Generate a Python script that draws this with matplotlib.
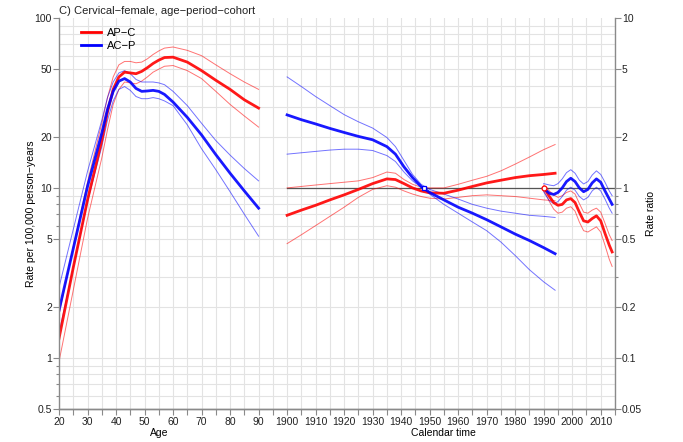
import numpy as np
import matplotlib
matplotlib.use("Agg")
import matplotlib.pyplot as plt
from matplotlib.lines import Line2D

plt.rcParams['font.family'] = ['Liberation Sans', 'DejaVu Sans']

# ---- age effects (rate per 100,000 person-years) ----
age = [20, 25, 30, 35, 37, 39, 41, 43, 45, 47, 49, 51, 53, 55, 57, 60, 65, 70, 75, 80, 85, 90]
apc_age     = [1.3, 3.4, 8.5, 19, 28, 38, 45, 48, 47.5, 47, 48.5, 51, 54, 56.5, 58.5, 58.8, 55, 49, 43, 38, 33, 29.5]
apc_age_hi  = [1.8, 4.5, 10.8, 24, 34, 45, 53, 55.5, 55.5, 54.5, 55, 57.5, 61, 64, 66.5, 67.5, 64.5, 60, 53, 47, 42, 38]
apc_age_lo  = [0.95, 2.5, 6.6, 15, 22, 31, 38, 42, 41.5, 41, 42.5, 45, 48, 50, 52, 52.5, 49, 44, 37, 31, 26.5, 22.8]
acp_age     = [1.9, 4.4, 10.2, 21, 29, 37, 42.5, 44, 42, 38.5, 37, 37.2, 37.5, 37, 35.5, 32, 26, 20.5, 15.7, 12.2, 9.6, 7.6]
acp_age_hi  = [2.6, 5.7, 12.5, 25, 34, 42, 47.5, 49, 47, 43.5, 42, 42, 42, 41.5, 40.5, 37, 30.5, 24, 19, 15.6, 13, 11]
acp_age_lo  = [1.4, 3.4, 8.3, 17.5, 25, 32.5, 38, 39.5, 37.5, 34.5, 33.5, 33.5, 34, 33.5, 32.5, 30.5, 23.5, 17, 12.8, 9.5, 7, 5.2]

# ---- cohort effects (rate ratio) ----
coh = [1900, 1905, 1910, 1915, 1920, 1925, 1930, 1935, 1938, 1941, 1944, 1947, 1950,
       1955, 1960, 1965, 1970, 1975, 1980, 1985, 1990, 1994]
apc_coh     = [0.69, 0.74, 0.79, 0.85, 0.91, 0.98, 1.06, 1.13, 1.12, 1.06, 1.0, 0.96, 0.935,
               0.93, 0.97, 1.02, 1.07, 1.11, 1.15, 1.18, 1.2, 1.22]
apc_coh_hi  = [1.0, 1.02, 1.04, 1.06, 1.08, 1.1, 1.15, 1.24, 1.22, 1.12, 1.05, 1.01, 1.0,
               1.0, 1.05, 1.11, 1.17, 1.26, 1.38, 1.52, 1.68, 1.8]
apc_coh_lo  = [0.47, 0.53, 0.6, 0.68, 0.77, 0.88, 0.98, 1.03, 1.01, 0.96, 0.92, 0.89, 0.87,
               0.86, 0.88, 0.9, 0.91, 0.9, 0.89, 0.87, 0.85, 0.84]
acp_coh     = [2.69, 2.52, 2.38, 2.24, 2.12, 2.01, 1.92, 1.75, 1.58, 1.33, 1.15, 1.02, 0.94,
               0.85, 0.77, 0.71, 0.65, 0.59, 0.535, 0.49, 0.445, 0.41]
acp_coh_hi  = [4.5, 3.95, 3.45, 3.05, 2.7, 2.45, 2.25, 1.98, 1.75, 1.45, 1.2, 1.05, 0.98,
               0.92, 0.86, 0.8, 0.76, 0.73, 0.71, 0.69, 0.68, 0.67]
acp_coh_lo  = [1.58, 1.61, 1.64, 1.67, 1.69, 1.69, 1.66, 1.55, 1.43, 1.24, 1.1, 1.01, 0.92,
               0.8, 0.71, 0.63, 0.56, 0.48, 0.4, 0.33, 0.28, 0.25]

# ---- period effects (rate ratio) ----
per = [1990, 1991, 1992, 1993.5, 1995, 1996.5, 1998, 1999.5, 2001, 2002.5, 2004, 2005.5,
       2007, 2008.5, 2010, 2011.5, 2013, 2014]
apc_per     = [1.0, 0.95, 0.89, 0.82, 0.79, 0.8, 0.85, 0.865, 0.82, 0.72, 0.64, 0.63,
               0.66, 0.685, 0.64, 0.54, 0.46, 0.42]
apc_per_hi  = [1.04, 1.0, 0.96, 0.91, 0.88, 0.9, 0.94, 0.96, 0.92, 0.81, 0.72, 0.71,
               0.74, 0.76, 0.72, 0.62, 0.53, 0.49]
apc_per_lo  = [0.96, 0.9, 0.83, 0.75, 0.71, 0.72, 0.76, 0.775, 0.73, 0.63, 0.56, 0.55,
               0.57, 0.59, 0.55, 0.46, 0.38, 0.345]
acp_per     = [1.0, 0.96, 0.93, 0.915, 0.94, 1.0, 1.09, 1.14, 1.09, 1.0, 0.95, 0.98,
               1.07, 1.13, 1.08, 0.96, 0.86, 0.8]
acp_per_hi  = [1.06, 1.05, 1.04, 1.03, 1.06, 1.13, 1.23, 1.28, 1.22, 1.11, 1.055, 1.09,
               1.19, 1.26, 1.2, 1.08, 0.96, 0.9]
acp_per_lo  = [0.95, 0.89, 0.84, 0.81, 0.83, 0.89, 0.97, 1.01, 0.97, 0.89, 0.85, 0.88,
               0.96, 1.01, 0.96, 0.86, 0.76, 0.71]

age_ticks = [20, 30, 40, 50, 60, 70, 80, 90]
cal_ticks = [1900, 1910, 1920, 1930, 1940, 1950, 1960, 1970, 1980, 1990, 2000, 2010]
rate_ticks = [0.5, 1, 2, 5, 10, 20, 50, 100]
rr_ticks = [0.05, 0.1, 0.2, 0.5, 1, 2, 5, 10]

SHIFT = 1800  # calendar year 1900 sits at age-axis position 100
RED, BLUE = '#ff0000', '#0000ff'
GRID = '#e3e3e3'
AXC = '#8a8a8a'

fig = plt.figure(figsize=(6.83, 4.42), dpi=100)
ax = fig.add_axes([0.0864, 0.0747, 0.8140, 0.8846])
ax.set_yscale('log')
ax.set_xlim(20, 215)
ax.set_ylim(0.5, 100)

# grid
for v in np.arange(20, 216, 5):
    ax.axvline(v, color=GRID, lw=0.8, zorder=0)
for d in [0.1, 1, 10]:
    for m in range(1, 10):
        h = m * d
        if 0.5 <= h <= 100:
            ax.axhline(h, color=GRID, lw=0.8, zorder=0)

# age curves
ax.plot(age, apc_age_hi, color=RED, lw=0.7, alpha=0.55)
ax.plot(age, apc_age_lo, color=RED, lw=0.7, alpha=0.55)
ax.plot(age, acp_age_hi, color=BLUE, lw=0.7, alpha=0.55)
ax.plot(age, acp_age_lo, color=BLUE, lw=0.7, alpha=0.55)
ax.plot(age, apc_age, color=RED, lw=2.0, alpha=0.9)
ax.plot(age, acp_age, color=BLUE, lw=2.0, alpha=0.9)

# rate ratio axis
axr = ax.twinx()
axr.set_yscale('log')
axr.set_ylim(0.05, 10)
axr.set_xlim(20, 215)
axr.plot([1900 - SHIFT, 2015 - SHIFT], [1, 1], color='#555555', lw=0.9)

cx = [c - SHIFT for c in coh]
px = [p - SHIFT for p in per]
for ys in [apc_coh_hi, apc_coh_lo]:
    axr.plot(cx, ys, color=RED, lw=0.7, alpha=0.55)
for ys in [acp_coh_hi, acp_coh_lo]:
    axr.plot(cx, ys, color=BLUE, lw=0.7, alpha=0.55)
for ys in [apc_per_hi, apc_per_lo]:
    axr.plot(px, ys, color=RED, lw=0.7, alpha=0.55)
for ys in [acp_per_hi, acp_per_lo]:
    axr.plot(px, ys, color=BLUE, lw=0.7, alpha=0.55)
axr.plot(cx, apc_coh, color=RED, lw=2.0, alpha=0.9)
axr.plot(cx, acp_coh, color=BLUE, lw=2.0, alpha=0.9)
axr.plot(px, apc_per, color=RED, lw=2.0, alpha=0.9)
axr.plot(px, acp_per, color=BLUE, lw=2.0, alpha=0.9)
axr.plot([1948 - SHIFT], [1], marker='s', ms=3.5, mfc='white', mec=BLUE, mew=0.9)
axr.plot([1990 - SHIFT], [1], marker='o', ms=3.5, mfc='white', mec=RED, mew=0.9)

# axes styling
for a in (ax, axr):
    a.spines['top'].set_visible(False)
    for s in ['left', 'right', 'bottom']:
        a.spines[s].set_color(AXC)
        a.spines[s].set_linewidth(1.0)
    a.tick_params(colors=AXC, labelcolor='#222222', labelsize=7.5, length=4, width=0.8)
    a.tick_params(which='minor', length=2.5, width=0.8, colors=AXC)

ax.spines['right'].set_visible(False)
axr.spines['left'].set_visible(False)

xt = list(np.arange(20, 216, 5))
lab_pos = {a: str(a) for a in age_ticks}
lab_pos.update({c - SHIFT: str(c) for c in cal_ticks})
xl = [lab_pos.get(int(v), '') for v in xt]
ax.set_xticks(xt)
ax.set_xticklabels(xl)
ax.tick_params(axis='x', pad=2)

ax.set_yticks(rate_ticks)
ax.set_yticklabels([f'{t:g}' for t in rate_ticks])
ax.set_yticks([0.6, 0.7, 0.8, 0.9, 6, 7, 8, 9], minor=True)
ax.yaxis.set_minor_formatter(plt.NullFormatter())
axr.set_yticks(rr_ticks)
axr.set_yticklabels([f'{t:g}' for t in rr_ticks])
axr.set_yticks([0.3, 0.4, 0.6, 0.7, 0.8, 0.9], minor=True)
axr.yaxis.set_minor_formatter(plt.NullFormatter())
ax.tick_params(axis='y', pad=1)
axr.tick_params(axis='y', pad=1)

ax.set_ylabel('Rate per 100,000 person\u2212years', fontsize=7.5, labelpad=-1)
axr.set_ylabel('Rate ratio', fontsize=7.5, labelpad=3)
ax.text(55, -0.061, 'Age', transform=ax.get_xaxis_transform(), ha='center', va='center', fontsize=7.5)
ax.text(1955 - SHIFT, -0.061, 'Calendar time', transform=ax.get_xaxis_transform(),
        ha='center', va='center', fontsize=7.5)

fig.text(0.087, 1 - 11 / 442, 'C) Cervical\u2212female, age\u2212period\u2212cohort',
         ha='left', va='center', fontsize=8, color='#222222')

handles = [Line2D([], [], color=RED, lw=2.0), Line2D([], [], color=BLUE, lw=2.0)]
ax.legend(handles, ['AP\u2212C', 'AC\u2212P'], loc='upper left', bbox_to_anchor=(0.025, 0.995),
          frameon=False, fontsize=8, handlelength=1.8, handletextpad=0.6,
          labelspacing=0.3, borderaxespad=0.3)

fig.savefig('out.png', dpi=100)
